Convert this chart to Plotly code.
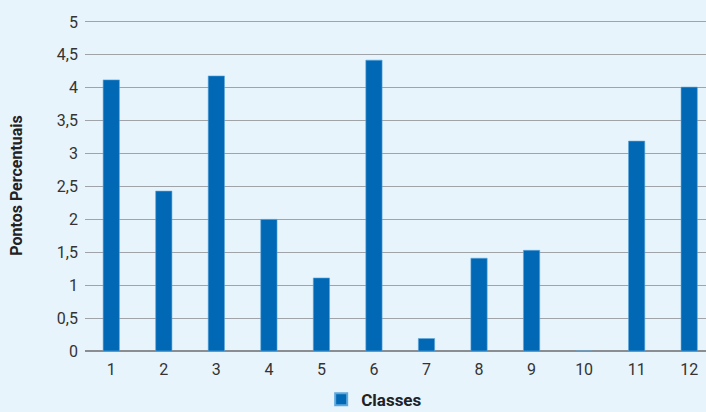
import plotly.graph_objects as go

categories = ["1", "2", "3", "4", "5", "6", "7", "8", "9", "10", "11", "12"]
values = [4.12, 2.43, 4.18, 2.0, 1.11, 4.42, 0.19, 1.41, 1.53, 0.0, 3.19, 4.01]
y_ticks = [0, 0.5, 1, 1.5, 2, 2.5, 3, 3.5, 4, 4.5, 5]
y_tick_labels = ["0", "0,5", "1", "1,5", "2", "2,5", "3", "3,5", "4", "4,5", "5"]

x_pos = list(range(1, len(categories) + 1))
bg = "#e8f4fc"
blue = "#0068b4"

fig = go.Figure()
fig.add_trace(go.Bar(
    x=x_pos, y=values, name="<b>Classes</b>",
    marker=dict(color=blue, line=dict(color="#5fa8dc", width=0.6)),
    width=0.31,
))

fig.update_layout(
    width=706, height=412,
    paper_bgcolor=bg, plot_bgcolor=bg,
    margin=dict(l=85, r=0, t=20, b=61, autoexpand=False),
    font=dict(family="Roboto, sans-serif", color="#333333", size=16),
    showlegend=True,
    legend=dict(orientation="h", xref="container", x=0.53, xanchor="center",
                yref="container", y=0.03, yanchor="middle",
                font=dict(size=17, color="#222222", family="Roboto, sans-serif"),
                itemsizing="constant", bgcolor="rgba(0,0,0,0)"),
)
fig.update_xaxes(
    tickmode="array", tickvals=x_pos, ticktext=categories,
    range=[0.5, 12.32], showgrid=False, zeroline=False, showline=False,
    ticks="", ticklen=0, tickfont=dict(size=16, color="#333333"),
    ticklabelstandoff=7,
)
fig.update_yaxes(
    tickmode="array", tickvals=y_ticks, ticktext=y_tick_labels,
    range=[0, 5.03], showgrid=True, gridcolor="#a0a4a8", gridwidth=1,
    zeroline=True, zerolinecolor="#8a8e92", zerolinewidth=2,
    ticks="", tickfont=dict(size=16, color="#333333"), ticklabelstandoff=6,
    title=dict(text="<b>Pontos Percentuais</b>", font=dict(size=16, color="#222222"), standoff=30),
)

fig.write_html(
    "out.html",
    config={"displayModeBar": False},
    post_script="document.body.style.margin='0';document.body.style.overflow='hidden';document.body.style.background='%s';" % bg,
)
